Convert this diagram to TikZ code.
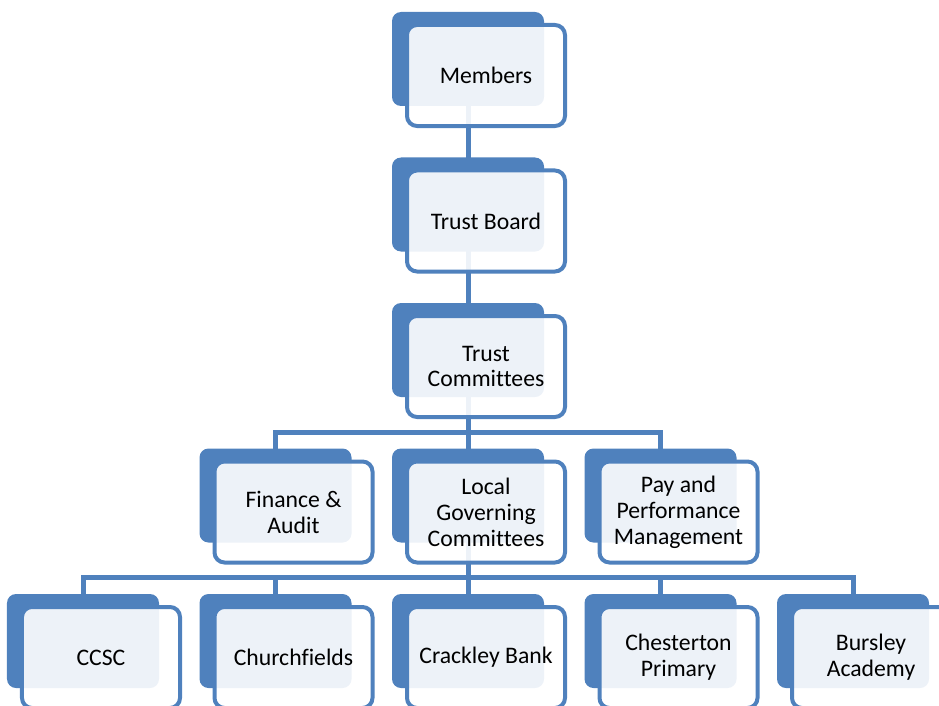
\documentclass[tikz,border=0pt]{standalone}
\usepackage{fontspec}
\setmainfont{Carlito}[Ligatures=NoCommon]
\usetikzlibrary{calc}
\definecolor{boxblue}{HTML}{4F81BD}
\tikzset{
  back/.style={minimum width=152bp, minimum height=94bp, inner sep=0pt, rounded corners=9bp, fill=boxblue, draw=none},
  front/.style={minimum width=158bp, minimum height=101bp, inner sep=0pt, rounded corners=10bp, draw=boxblue, line width=4bp, fill=white, fill opacity=0.9, text opacity=1, align=center, font=\fontsize{23.8}{26}\selectfont},
  conn/.style={draw=boxblue, line width=5bp}
}
\begin{document}
\begin{tikzpicture}[x=1bp,y=-1bp]
\clip (0,0) rectangle (939,706);
% anchor positions of the boxes
\coordinate (m)   at (468,59);
\coordinate (tb)  at (468,204.5);
\coordinate (tc)  at (468,350);
\coordinate (fa)  at (275.5,495.5);
\coordinate (lgc) at (468,495.5);
\coordinate (pp)  at (660.5,495.5);
\coordinate (c1)  at (83,641);
\coordinate (c2)  at (275.5,641);
\coordinate (c3)  at (468,641);
\coordinate (c4)  at (660.5,641);
\coordinate (c5)  at (853,641);
\coordinate (bus1) at (468,432);
\coordinate (bus2) at (468,577);
% connectors
\path[conn] (m) -- (tb);
\path[conn] (tb) -- (tc);
\path[conn] (tc) -- (bus1);
\path[conn] (fa) -- (fa |- bus1) -- (pp |- bus1) -- (pp);
\path[conn] (bus1) -- (lgc);
\path[conn] (lgc) -- (bus2);
\path[conn] (c1) -- (c1 |- bus2) -- (c5 |- bus2) -- (c5);
\path[conn] (c2 |- bus2) -- (c2);
\path[conn] (bus2) -- (c3);
\path[conn] (c4 |- bus2) -- (c4);
% boxes
\node[back] (mB) at (m) {};
\node[front] (mF)   at ($(m)+(18,16.5)$) {Members};
\node[back] (tbB) at (tb) {};
\node[front] (tbF)  at ($(tb)+(18,16.5)$) {Trust Board};
\node[back] (tcB) at (tc) {};
\node[front] (tcF)  at ($(tc)+(18,16.5)$) {Trust\\Committees};
\node[back] (faB) at (fa) {};
\node[front] (faF)  at ($(fa)+(18,16.5)$) {Finance \&\\Audit};
\node[back] (lgcB) at (lgc) {};
\node[front] (lgcF) at ($(lgc)+(18,16.5)$) {Local\\Governing\\Committees};
\node[back] (ppB) at (pp) {};
\node[front] (ppF)  at ($(pp)+(18,16.5)$) {Pay and\\Performance\\Management};
\node[back] (c1B) at (c1) {};
\node[front] (c1F)  at ($(c1)+(18,16.5)$) {CCSC};
\node[back] (c2B) at (c2) {};
\node[front] (c2F)  at ($(c2)+(18,16.5)$) {Churchfields};
\node[back] (c3B) at (c3) {};
\node[front] (c3F)  at ($(c3)+(18,16.5)$) {Crackley Bank};
\node[back] (c4B) at (c4) {};
\node[front] (c4F)  at ($(c4)+(18,16.5)$) {Chesterton\\Primary};
\node[back] (c5B) at (c5) {};
\node[front] (c5F)  at ($(c5)+(18,16.5)$) {Bursley\\Academy};
\end{tikzpicture}
\end{document}
